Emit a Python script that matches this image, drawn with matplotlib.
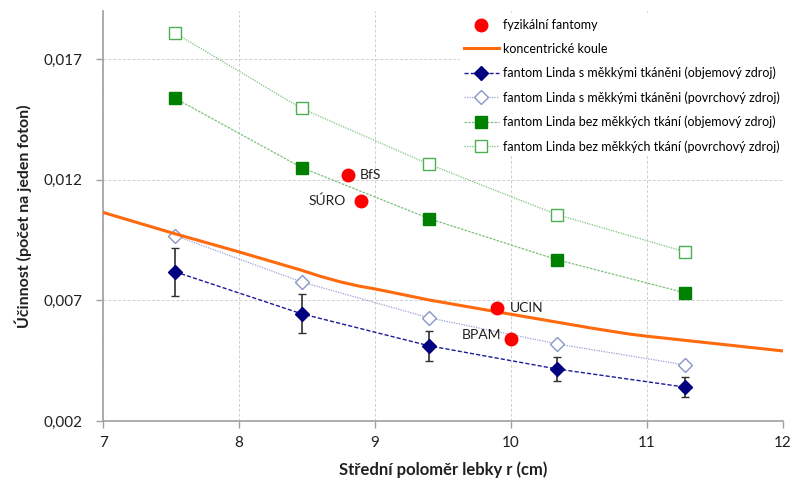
import numpy as np
from matplotlib import pyplot as plt
from matplotlib.ticker import FuncFormatter, MultipleLocator

plt.rcParams['font.family'] = ['Lato', 'DejaVu Sans']

# Linda phantom radii (cm)
r_linda = [7.53, 8.46, 9.40, 10.34, 11.28]
s_tkan_obj = [0.00819, 0.00645, 0.00512, 0.00416, 0.00341]
s_tkan_obj_err = [0.00100, 0.00080, 0.00062, 0.00050, 0.00042]
s_tkan_povr = [0.00969, 0.00777, 0.00628, 0.00520, 0.00433]
bez_tkan_obj = [0.01538, 0.01251, 0.01039, 0.00869, 0.00732]
bez_tkan_povr = [0.01808, 0.01496, 0.01264, 0.01056, 0.00902]

# concentric spheres
r_koule = [7.0, 7.52, 7.99, 8.45, 8.6, 8.74, 8.88, 9.01, 9.40, 10.0, 10.6, 10.87, 11.0, 12.0]
koule = [0.01065, 0.00978, 0.00903, 0.00827, 0.00800, 0.00778, 0.00760, 0.00747, 0.00702,
         0.00643, 0.00585, 0.00561, 0.00552, 0.00491]

# physical phantoms
fyz_names = ["BfS", "SÚRO", "UCIN", "BPAM"]
fyz_r = [8.80, 8.90, 9.90, 10.00]
fyz_val = [0.01222, 0.01114, 0.00669, 0.00540]
fyz_offsets = [(9, 0), (-11, 0), (9, 0), (-7, 3)]
fyz_ha = ['left', 'right', 'left', 'right']

fig = plt.figure(figsize=(7.93, 4.78), dpi=100)
ax = fig.add_axes([0.130, 0.119, 0.857, 0.858])

ax.plot(fyz_r, fyz_val, 'o', color='#FF0000', markersize=9, linestyle='none',
        label='fyzikální fantomy', zorder=5)
ax.plot(r_koule, koule, '-', color='#FF6A0E', linewidth=2.2, label='koncentrické koule', zorder=4)
ax.errorbar(r_linda, s_tkan_obj, yerr=s_tkan_obj_err, fmt='none', ecolor='#303030',
            elinewidth=1.2, capsize=3, capthick=1.0, zorder=3)
ax.plot(r_linda, s_tkan_obj, linestyle=(0, (3, 1.5)), color='#1A1A9A', linewidth=1.0,
        marker='D', markersize=7, markerfacecolor='#000080', markeredgecolor='#000080',
        label='fantom Linda s měkkými tkáněni (objemový zdroj)', zorder=3)
ax.plot(r_linda, s_tkan_povr, linestyle=(0, (1, 1)), color='#9AA0D8', linewidth=0.9,
        marker='D', markersize=7, markerfacecolor='white', markeredgecolor='#8896C8',
        label='fantom Linda s měkkými tkáněni (povrchový zdroj)', zorder=3)
ax.plot(r_linda, bez_tkan_obj, linestyle=(0, (2, 1)), color='#7CC07C', linewidth=0.9,
        marker='s', markersize=8, markerfacecolor='#008000', markeredgecolor='#008000',
        label='fantom Linda bez měkkých tkání (objemový zdroj)', zorder=3)
ax.plot(r_linda, bez_tkan_povr, linestyle=(0, (1, 1)), color='#7CC07C', linewidth=0.9,
        marker='s', markersize=9, markerfacecolor='white', markeredgecolor='#4CAF50',
        label='fantom Linda bez měkkých tkání (povrchový zdroj)', zorder=3)

for name, x, y, off, ha in zip(fyz_names, fyz_r, fyz_val, fyz_offsets, fyz_ha):
    ax.annotate(name, (x, y), xytext=off, textcoords='offset points',
                fontsize=10, color='#202020', ha=ha, va='center')

ax.set_xlim(7, 12)
ax.set_ylim(0.002, 0.019)
ax.xaxis.set_major_locator(MultipleLocator(1))
ax.set_yticks([0.002, 0.007, 0.012, 0.017])
ax.yaxis.set_major_formatter(FuncFormatter(lambda v, p: f"{v:.3f}".replace('.', ',')))

ax.grid(True, color='#CFCFCF', linestyle=(0, (3, 2)), linewidth=0.7)
ax.set_axisbelow(True)
for s in ['top', 'right']:
    ax.spines[s].set_visible(False)
for s in ['left', 'bottom']:
    ax.spines[s].set_color('#A0A0A0')
    ax.spines[s].set_linewidth(1.2)
ax.tick_params(colors='#A0A0A0', labelcolor='#202020', labelsize=11, length=5, width=1)
ax.tick_params(axis='y', pad=10)
ax.tick_params(axis='x', pad=6)

ax.set_xlabel('Střední poloměr lebky r (cm)', fontsize=12, fontweight='bold', color='#202020',
              labelpad=8)
ax.set_ylabel('Účinnost (počet na jeden foton)', fontsize=11.5, fontweight='bold', color='#202020',
              labelpad=8)

leg = ax.legend(loc='upper right', bbox_to_anchor=(1.01, 1.005), fontsize=9, frameon=True,
                framealpha=1, edgecolor='white', facecolor='white', handlelength=2.8,
                labelspacing=0.95, borderpad=0.3, handletextpad=0.3)
leg.get_frame().set_linewidth(0)

fig.savefig('out.png', dpi=100)
